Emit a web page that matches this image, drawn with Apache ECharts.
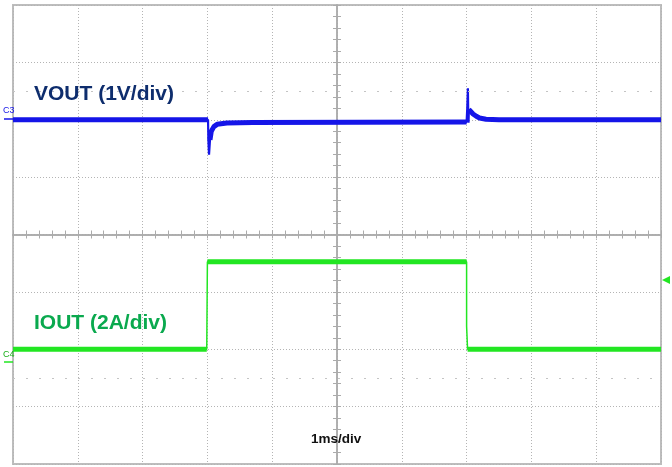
<!DOCTYPE html>
<html><head><meta charset="utf-8">
<script src="https://cdn.jsdelivr.net/npm/echarts@6/dist/echarts.min.js"></script>
<style>html,body{margin:0;padding:0;background:#fff}#c{width:672px;height:467px}</style>
</head><body><div id="c"></div>
<script>
// Time in ms relative to the screen centre (1 ms/div)
const voutTime  = [-5, -1.99, -1.985, -1.975, -1.96, -1.94, -1.9, -1.85, -1.7, -1.3, 2.0, 2.01, 2.02, 2.025, 2.03, 2.035, 2.06, 2.1, 2.15, 2.2, 2.3, 2.5, 5];
// VOUT deviation from its set point (V), 1 V/div
const voutVolts = [0, 0, -0.35, -0.61, -0.35, -0.2, -0.12, -0.08, -0.055, -0.05, -0.04, 0.2, 0.55, 0.15, -0.05, 0.18, 0.15, 0.1, 0.06, 0.03, 0.01, 0, 0];
const ioutTime  = [-5, -2.01, -2.0, 2.0, 2.0, 2.015, 5];
// IOUT (A), 2 A/div
const ioutAmps  = [0.2, 0.2, 3.25, 3.25, 1.0, 0.2, 0.2];
const voutPerDiv = 1, voutOffsetDiv = 2.0;
const ioutPerDiv = 2, ioutOffsetDiv = -2.1;
const labels = { vout: 'VOUT (1V/div)', iout: 'IOUT (2A/div)', time: '1ms/div', c3: 'C3', c4: 'C4' };

function toDiv(ts, vs, perDiv, off) { return ts.map((t, i) => [t, vs[i] / perDiv + off]); }
function bandOnly(pts, maxSlope) {
  const out = [pts[0]];
  for (let i = 1; i < pts.length; i++) {
    const dt = pts[i][0] - pts[i-1][0], dy = Math.abs(pts[i][1] - pts[i-1][1]);
    if (dt <= 0 || dy / dt > maxSlope) out.push([pts[i][0], '-']);
    out.push(pts[i]);
  }
  return out;
}
const voutPts = toDiv(voutTime, voutVolts, voutPerDiv, voutOffsetDiv);
const ioutPts = toDiv(ioutTime, ioutAmps, ioutPerDiv, ioutOffsetDiv);
const BLUE = '#1515e8', GREEN = '#22e622';
const FF = '"Liberation Sans", Arial, Helvetica, sans-serif';

const chart = echarts.init(document.getElementById('c'));
const axCommon = (pos, inside, isX) => ({
  type: 'value', min: isX ? -5 : -4, max: isX ? 5 : 4, interval: 1, position: pos,
  axisLine: { show: true, onZero: true, lineStyle: { color: '#ababab', width: 1.5 } },
  axisTick: { show: true, inside: inside, length: 4, lineStyle: { color: '#ababab' } },
  minorTick: { show: true, splitNumber: 5, length: 4, lineStyle: { color: '#ababab' } },
  axisLabel: { show: false },
  splitLine: { show: !inside, lineStyle: { color: '#b4b4b4', type: [1, 2], width: 1 } }
});
chart.setOption({
  animation: false,
  grid: { left: 13, top: 5, width: 648, height: 459, show: true, borderColor: '#bdbdbd', borderWidth: 2, backgroundColor: '#fff' },
  xAxis: [axCommon('bottom', false, true), axCommon('top', false, true)],
  yAxis: [axCommon('left', false, false), axCommon('right', false, false)],
  series: [
    { type: 'line', data: voutPts, symbol: 'none', lineStyle: { color: BLUE, width: 2.2 }, z: 3,
      markLine: { silent: true, symbol: 'none', label: { show: false },
        lineStyle: { color: '#c4c4c4', type: [2, 11], width: 1 },
        data: [{ yAxis: 2.5 }, { yAxis: -2.5 }] } },
    { type: 'line', data: bandOnly(voutPts, 15), symbol: 'none', connectNulls: false, lineStyle: { color: BLUE, width: 5 }, z: 3 },
    { type: 'line', data: ioutPts, symbol: 'none', lineStyle: { color: GREEN, width: 1.5 }, z: 3 },
    { type: 'line', data: bandOnly(ioutPts, 15), symbol: 'none', connectNulls: false, lineStyle: { color: GREEN, width: 5 }, z: 3 }
  ],
  graphic: [
    { type: 'text', left: 34, top: 84, style: { text: labels.vout, fontSize: 21, fontWeight: 'bold', fontFamily: FF, fill: '#0e2d6d' }, z: 10 },
    { type: 'text', left: 34, top: 313, style: { text: labels.iout, fontSize: 21, fontWeight: 'bold', fontFamily: FF, fill: '#0aa94e' }, z: 10 },
    { type: 'text', left: 311, top: 432, style: { text: labels.time, fontSize: 13.5, fontWeight: 'bold', fontFamily: FF, fill: '#111' }, z: 10 },
    { type: 'text', left: 3, top: 106, style: { text: labels.c3, fontSize: 9, fontFamily: FF, fill: BLUE }, z: 10 },
    { type: 'line', shape: { x1: 4, y1: 119, x2: 13, y2: 119 }, style: { stroke: BLUE, lineWidth: 1.5 }, z: 10 },
    { type: 'text', left: 3, top: 350, style: { text: labels.c4, fontSize: 9, fontFamily: FF, fill: '#19b019' }, z: 10 },
    { type: 'line', shape: { x1: 4, y1: 362, x2: 13, y2: 362 }, style: { stroke: GREEN, lineWidth: 1.5 }, z: 10 },
    { type: 'polygon', shape: { points: [[662, 280], [670, 276], [670, 284]] }, style: { fill: GREEN }, z: 10 }
  ]
});
</script></body></html>
